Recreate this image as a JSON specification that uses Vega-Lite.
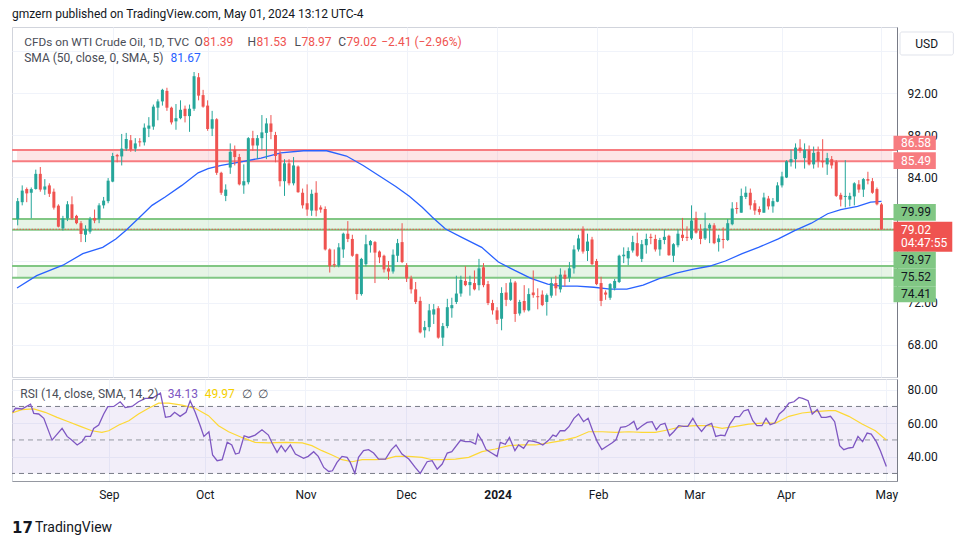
{
  "$schema": "https://vega.github.io/schema/vega-lite/v6.json",
  "background": "white",
  "padding": {"left": 10, "top": 7, "right": 5, "bottom": 5},
  "spacing": 0,
  "config": {"font": "Roboto", "view": {"stroke": "#d1d4dc"}},
  "title": {"text": "gmzern published on TradingView.com, May 01, 2024 13:12 UTC-4", "anchor": "start", "frame": "group", "fontSize": 12, "fontWeight": "normal", "color": "#131722", "offset": 6},
  "datasets": {
    "candles": [
      {"i":0,"o":80.0,"h":82.0,"l":79.4,"c":81.7},
      {"i":1,"o":81.6,"h":83.2,"l":81.3,"c":82.7},
      {"i":2,"o":82.86,"h":83.0,"l":81.6,"c":82.44},
      {"i":3,"o":82.5,"h":83.0,"l":80.06,"c":82.85},
      {"i":4,"o":82.86,"h":84.7,"l":82.8,"c":84.3},
      {"i":5,"o":84.3,"h":84.95,"l":82.6,"c":82.8},
      {"i":6,"o":82.8,"h":83.8,"l":82.3,"c":83.1},
      {"i":7,"o":83.2,"h":83.4,"l":82.1,"c":82.4},
      {"i":8,"o":82.6,"h":82.9,"l":80.9,"c":81.08},
      {"i":9,"o":81.27,"h":81.4,"l":79.2,"c":79.27},
      {"i":10,"o":79.1,"h":80.3,"l":78.9,"c":80.06},
      {"i":11,"o":80.06,"h":81.7,"l":79.8,"c":81.4},
      {"i":12,"o":81.4,"h":82.16,"l":79.9,"c":80.06},
      {"i":13,"o":80.3,"h":80.4,"l":79.5,"c":79.6},
      {"i":14,"o":79.6,"h":79.8,"l":77.8,"c":78.57},
      {"i":15,"o":78.5,"h":79.4,"l":77.8,"c":79.05},
      {"i":16,"o":78.8,"h":80.2,"l":78.6,"c":80.0},
      {"i":17,"o":80.1,"h":80.9,"l":79.6,"c":79.85},
      {"i":18,"o":80.0,"h":81.5,"l":79.6,"c":81.3},
      {"i":19,"o":81.3,"h":82.1,"l":81.0,"c":81.75},
      {"i":20,"o":81.7,"h":83.9,"l":81.5,"c":83.65},
      {"i":21,"o":83.56,"h":86.3,"l":83.5,"c":86.0},
      {"i":22,"o":86.1,"h":86.2,"l":85.4,"c":85.96},
      {"i":23,"o":85.96,"h":88.1,"l":85.1,"c":86.7},
      {"i":24,"o":86.7,"h":88.2,"l":86.5,"c":87.62},
      {"i":25,"o":87.5,"h":88.0,"l":86.4,"c":86.6},
      {"i":26,"o":86.7,"h":87.7,"l":86.4,"c":87.2},
      {"i":27,"o":87.4,"h":87.7,"l":86.9,"c":87.3},
      {"i":28,"o":87.3,"h":89.1,"l":87.0,"c":88.7},
      {"i":29,"o":88.6,"h":89.7,"l":87.8,"c":88.9},
      {"i":30,"o":88.8,"h":90.9,"l":88.5,"c":90.7},
      {"i":31,"o":90.6,"h":91.4,"l":89.4,"c":91.2},
      {"i":32,"o":91.2,"h":92.4,"l":90.8,"c":92.3},
      {"i":33,"o":92.2,"h":92.5,"l":90.3,"c":90.6},
      {"i":34,"o":90.6,"h":90.7,"l":89.0,"c":89.2},
      {"i":35,"o":89.3,"h":90.95,"l":88.5,"c":89.6},
      {"i":36,"o":89.6,"h":91.3,"l":89.5,"c":90.4},
      {"i":37,"o":90.5,"h":90.8,"l":89.2,"c":89.8},
      {"i":38,"o":89.8,"h":90.9,"l":88.3,"c":90.5},
      {"i":39,"o":90.5,"h":94.0,"l":90.3,"c":93.6},
      {"i":40,"o":93.5,"h":93.9,"l":91.3,"c":91.75},
      {"i":41,"o":91.8,"h":92.3,"l":90.6,"c":90.7},
      {"i":42,"o":90.8,"h":91.3,"l":88.4,"c":88.57},
      {"i":43,"o":88.6,"h":90.3,"l":87.9,"c":89.5},
      {"i":44,"o":89.5,"h":89.6,"l":84.2,"c":84.4},
      {"i":45,"o":84.4,"h":84.5,"l":82.3,"c":82.5},
      {"i":46,"o":82.2,"h":83.3,"l":81.7,"c":82.8},
      {"i":47,"o":84.9,"h":87.2,"l":84.3,"c":86.4},
      {"i":48,"o":86.6,"h":87.0,"l":85.1,"c":85.9},
      {"i":49,"o":85.9,"h":86.2,"l":83.2,"c":83.3},
      {"i":50,"o":83.2,"h":85.2,"l":82.4,"c":83.6},
      {"i":51,"o":83.5,"h":87.8,"l":83.3,"c":87.7},
      {"i":52,"o":87.7,"h":88.4,"l":86.5,"c":87.0},
      {"i":53,"o":87.0,"h":88.0,"l":85.7,"c":87.7},
      {"i":54,"o":87.7,"h":89.9,"l":86.6,"c":88.25},
      {"i":55,"o":88.2,"h":89.6,"l":85.7,"c":89.1},
      {"i":56,"o":89.1,"h":89.9,"l":87.6,"c":88.3},
      {"i":57,"o":88.0,"h":88.3,"l":85.4,"c":86.0},
      {"i":58,"o":86.2,"h":86.5,"l":83.1,"c":83.6},
      {"i":59,"o":83.6,"h":85.7,"l":82.2,"c":85.3},
      {"i":60,"o":85.3,"h":85.7,"l":83.2,"c":83.4},
      {"i":61,"o":83.4,"h":85.9,"l":83.2,"c":85.1},
      {"i":62,"o":85.0,"h":85.1,"l":82.5,"c":82.55},
      {"i":63,"o":82.5,"h":82.9,"l":81.0,"c":81.3},
      {"i":64,"o":81.5,"h":83.3,"l":80.3,"c":80.9},
      {"i":65,"o":80.8,"h":82.8,"l":80.3,"c":82.4},
      {"i":66,"o":82.5,"h":83.6,"l":80.25,"c":80.8},
      {"i":67,"o":81.1,"h":81.3,"l":80.6,"c":80.9},
      {"i":68,"o":80.95,"h":81.2,"l":77.0,"c":77.1},
      {"i":69,"o":77.1,"h":77.2,"l":74.9,"c":75.5},
      {"i":70,"o":75.7,"h":77.1,"l":75.4,"c":75.6},
      {"i":71,"o":75.55,"h":77.7,"l":75.4,"c":77.3},
      {"i":72,"o":77.1,"h":78.7,"l":76.3,"c":78.6},
      {"i":73,"o":78.6,"h":79.8,"l":77.8,"c":78.1},
      {"i":74,"o":78.1,"h":78.5,"l":76.4,"c":76.5},
      {"i":75,"o":76.65,"h":76.7,"l":72.3,"c":72.85},
      {"i":76,"o":72.85,"h":76.3,"l":72.7,"c":76.2},
      {"i":77,"o":75.7,"h":78.5,"l":75.5,"c":77.6},
      {"i":78,"o":77.5,"h":78.0,"l":76.8,"c":77.9},
      {"i":79,"o":77.8,"h":77.9,"l":73.9,"c":76.8},
      {"i":80,"o":76.9,"h":77.0,"l":75.8,"c":76.35},
      {"i":81,"o":76.5,"h":76.6,"l":74.9,"c":75.2},
      {"i":82,"o":75.3,"h":76.0,"l":74.2,"c":75.0},
      {"i":83,"o":75.0,"h":77.1,"l":74.8,"c":76.6},
      {"i":84,"o":76.5,"h":78.1,"l":75.9,"c":77.7},
      {"i":85,"o":77.8,"h":79.6,"l":75.8,"c":75.9},
      {"i":86,"o":75.6,"h":75.8,"l":74.0,"c":74.35},
      {"i":87,"o":74.35,"h":74.6,"l":72.9,"c":73.3},
      {"i":88,"o":73.3,"h":74.0,"l":71.9,"c":72.1},
      {"i":89,"o":72.2,"h":72.6,"l":69.1,"c":69.2},
      {"i":90,"o":69.4,"h":70.3,"l":68.7,"c":69.7},
      {"i":91,"o":69.7,"h":71.9,"l":69.3,"c":71.3},
      {"i":92,"o":70.9,"h":71.9,"l":70.0,"c":71.4},
      {"i":93,"o":71.5,"h":71.7,"l":68.6,"c":68.7},
      {"i":94,"o":68.7,"h":70.1,"l":67.9,"c":69.8},
      {"i":95,"o":69.8,"h":72.4,"l":69.6,"c":71.6},
      {"i":96,"o":71.5,"h":72.5,"l":70.6,"c":71.8},
      {"i":97,"o":72.1,"h":74.6,"l":71.9,"c":72.9},
      {"i":98,"o":72.9,"h":74.6,"l":72.6,"c":74.2},
      {"i":99,"o":74.1,"h":75.5,"l":73.6,"c":73.7},
      {"i":100,"o":73.7,"h":74.6,"l":72.7,"c":74.0},
      {"i":101,"o":73.9,"h":75.1,"l":73.2,"c":73.3},
      {"i":102,"o":73.7,"h":76.2,"l":73.2,"c":75.3},
      {"i":103,"o":75.4,"h":75.8,"l":73.5,"c":73.7},
      {"i":104,"o":73.8,"h":74.1,"l":71.8,"c":72.0},
      {"i":105,"o":72.0,"h":72.3,"l":70.9,"c":71.3},
      {"i":106,"o":71.3,"h":71.6,"l":70.0,"c":70.4},
      {"i":107,"o":70.5,"h":73.5,"l":69.4,"c":72.95},
      {"i":108,"o":73.0,"h":73.9,"l":71.7,"c":72.3},
      {"i":109,"o":72.3,"h":74.3,"l":72.2,"c":73.95},
      {"i":110,"o":73.95,"h":74.1,"l":70.2,"c":70.95},
      {"i":111,"o":71.0,"h":72.3,"l":70.8,"c":72.1},
      {"i":112,"o":72.2,"h":73.7,"l":71.1,"c":71.3},
      {"i":113,"o":71.3,"h":73.4,"l":71.2,"c":72.85},
      {"i":114,"o":73.0,"h":75.1,"l":72.5,"c":72.75},
      {"i":115,"o":72.65,"h":73.4,"l":71.4,"c":72.55},
      {"i":116,"o":72.8,"h":73.2,"l":71.7,"c":71.8},
      {"i":117,"o":72.1,"h":72.9,"l":70.8,"c":72.75},
      {"i":118,"o":72.7,"h":74.4,"l":72.5,"c":73.9},
      {"i":119,"o":73.9,"h":74.6,"l":72.7,"c":73.4},
      {"i":120,"o":73.3,"h":75.3,"l":73.0,"c":74.7},
      {"i":121,"o":74.7,"h":75.1,"l":73.6,"c":74.3},
      {"i":122,"o":74.4,"h":75.9,"l":74.0,"c":75.3},
      {"i":123,"o":75.3,"h":77.5,"l":74.8,"c":77.1},
      {"i":124,"o":77.1,"h":78.5,"l":76.9,"c":78.15},
      {"i":125,"o":79.05,"h":79.3,"l":76.7,"c":76.9},
      {"i":126,"o":76.95,"h":78.6,"l":76.0,"c":77.85},
      {"i":127,"o":78.05,"h":78.3,"l":75.6,"c":75.7},
      {"i":128,"o":76.0,"h":76.2,"l":73.7,"c":73.8},
      {"i":129,"o":73.9,"h":74.5,"l":71.7,"c":72.2},
      {"i":130,"o":73.0,"h":73.2,"l":72.3,"c":72.8},
      {"i":131,"o":72.5,"h":73.9,"l":72.3,"c":73.8},
      {"i":132,"o":73.4,"h":74.3,"l":73.2,"c":74.1},
      {"i":133,"o":74.0,"h":76.6,"l":73.9,"c":76.5},
      {"i":134,"o":76.45,"h":77.3,"l":75.8,"c":76.6},
      {"i":135,"o":76.25,"h":77.3,"l":75.6,"c":76.95},
      {"i":136,"o":77.0,"h":78.4,"l":76.8,"c":77.8},
      {"i":137,"o":77.7,"h":78.7,"l":76.4,"c":76.5},
      {"i":138,"o":76.2,"h":78.0,"l":75.9,"c":77.6},
      {"i":139,"o":77.5,"h":78.6,"l":76.7,"c":78.1},
      {"i":140,"o":78.3,"h":78.6,"l":77.6,"c":78.2},
      {"i":141,"o":78.1,"h":78.5,"l":76.9,"c":77.1},
      {"i":142,"o":77.1,"h":78.2,"l":76.5,"c":78.0},
      {"i":143,"o":78.0,"h":79.0,"l":77.6,"c":78.3},
      {"i":144,"o":78.4,"h":78.5,"l":76.5,"c":76.55},
      {"i":145,"o":76.5,"h":77.7,"l":75.9,"c":77.6},
      {"i":146,"o":77.5,"h":79.0,"l":77.3,"c":78.6},
      {"i":147,"o":78.5,"h":80.1,"l":77.9,"c":78.2},
      {"i":148,"o":78.3,"h":79.3,"l":77.9,"c":78.2},
      {"i":149,"o":78.15,"h":81.3,"l":78.0,"c":79.85},
      {"i":150,"o":80.1,"h":80.7,"l":78.6,"c":78.7},
      {"i":151,"o":78.9,"h":79.5,"l":77.6,"c":78.1},
      {"i":152,"o":78.15,"h":80.6,"l":78.0,"c":79.1},
      {"i":153,"o":79.1,"h":79.6,"l":77.7,"c":79.45},
      {"i":154,"o":79.4,"h":79.6,"l":77.6,"c":77.7},
      {"i":155,"o":77.8,"h":78.5,"l":76.9,"c":78.15},
      {"i":156,"o":78.1,"h":79.2,"l":77.2,"c":78.0},
      {"i":157,"o":78.0,"h":80.0,"l":77.9,"c":79.6},
      {"i":158,"o":79.5,"h":81.6,"l":79.4,"c":81.0},
      {"i":159,"o":81.05,"h":81.6,"l":80.5,"c":80.95},
      {"i":160,"o":80.6,"h":82.9,"l":80.6,"c":82.2},
      {"i":161,"o":82.1,"h":83.1,"l":81.9,"c":82.5},
      {"i":162,"o":82.5,"h":82.9,"l":80.9,"c":81.3},
      {"i":163,"o":81.5,"h":81.8,"l":80.4,"c":80.8},
      {"i":164,"o":80.95,"h":81.2,"l":80.4,"c":80.65},
      {"i":165,"o":80.6,"h":82.5,"l":80.6,"c":82.05},
      {"i":166,"o":81.95,"h":82.2,"l":80.9,"c":81.2},
      {"i":167,"o":81.2,"h":82.0,"l":80.6,"c":81.7},
      {"i":168,"o":81.65,"h":83.5,"l":81.6,"c":83.2},
      {"i":169,"o":83.2,"h":84.5,"l":83.0,"c":84.05},
      {"i":170,"o":83.95,"h":85.6,"l":83.9,"c":85.5},
      {"i":171,"o":85.4,"h":86.6,"l":85.0,"c":85.7},
      {"i":172,"o":85.7,"h":87.2,"l":84.8,"c":86.8},
      {"i":173,"o":86.8,"h":87.6,"l":86.3,"c":86.5},
      {"i":174,"o":85.8,"h":87.2,"l":84.8,"c":86.6},
      {"i":175,"o":86.6,"h":87.0,"l":85.1,"c":85.2},
      {"i":176,"o":85.2,"h":86.9,"l":84.8,"c":86.3},
      {"i":177,"o":86.4,"h":86.9,"l":84.9,"c":85.5},
      {"i":178,"o":85.55,"h":87.6,"l":84.9,"c":85.4},
      {"i":179,"o":85.2,"h":86.3,"l":84.2,"c":85.8},
      {"i":180,"o":85.7,"h":86.0,"l":84.8,"c":85.1},
      {"i":181,"o":85.45,"h":85.6,"l":82.1,"c":82.2},
      {"i":182,"o":82.3,"h":82.5,"l":81.2,"c":81.85},
      {"i":183,"o":82.1,"h":85.6,"l":81.1,"c":82.2},
      {"i":184,"o":81.85,"h":82.5,"l":81.2,"c":82.2},
      {"i":185,"o":82.15,"h":83.5,"l":81.3,"c":83.4},
      {"i":186,"o":83.3,"h":83.7,"l":82.5,"c":82.8},
      {"i":187,"o":82.8,"h":83.9,"l":82.1,"c":83.8},
      {"i":188,"o":83.8,"h":84.5,"l":83.3,"c":83.65},
      {"i":189,"o":83.6,"h":83.9,"l":82.4,"c":82.5},
      {"i":190,"o":82.85,"h":83.0,"l":81.3,"c":81.4},
      {"i":191,"o":81.39,"h":81.53,"l":78.97,"c":79.02}
    ],
    "sma": [
      {"i":-0.15,"v":73.43},{"i":4.2,"v":74.6},{"i":10,"v":75.6},{"i":14.4,"v":76.7},{"i":18.8,"v":77.3},{"i":21.7,"v":78.1},{"i":23.9,"v":78.9},{"i":26.8,"v":80.1},{"i":29.7,"v":81.3},{"i":32.6,"v":82.1},{"i":36.3,"v":83.2},{"i":39.9,"v":84.4},{"i":42.1,"v":84.8},{"i":45,"v":85.1},{"i":49.4,"v":85.45},{"i":53.8,"v":85.8},{"i":58.2,"v":86.3},{"i":63.2,"v":86.5},{"i":68.3,"v":86.5},{"i":72.7,"v":86.0},{"i":76.4,"v":85.1},{"i":80,"v":84.1},{"i":83.6,"v":83.1},{"i":86.6,"v":82.16},{"i":89.5,"v":81.1},{"i":91.7,"v":80.16},{"i":94.6,"v":79.05},{"i":98.2,"v":78.25},{"i":102.6,"v":77.3},{"i":106.3,"v":75.9},{"i":109.9,"v":75.1},{"i":113.5,"v":74.35},{"i":117.2,"v":73.8},{"i":120.1,"v":73.6},{"i":123.7,"v":73.6},{"i":127.4,"v":73.5},{"i":131,"v":73.33},{"i":134.7,"v":73.33},{"i":138.3,"v":73.7},{"i":142,"v":74.35},{"i":145.6,"v":74.85},{"i":149.2,"v":75.2},{"i":152.9,"v":75.5},{"i":156.5,"v":76.0},{"i":160.2,"v":76.7},{"i":163.8,"v":77.3},{"i":168.2,"v":78.1},{"i":171.8,"v":78.9},{"i":175.5,"v":79.6},{"i":179.1,"v":80.5},{"i":182,"v":80.9},{"i":185.7,"v":81.2},{"i":188.6,"v":81.6},{"i":191,"v":81.67}
    ],
    "rsi": [
      {"i":0,"r":66.5},{"i":0.6,"r":68.9},{"i":2,"r":68.5},{"i":3.9,"r":71.4},{"i":4.6,"r":65.9},{"i":5.7,"r":65.5},{"i":6.8,"r":62.9},{"i":8.6,"r":49.9},{"i":10.8,"r":56.9},{"i":11.9,"r":52.1},{"i":12.9,"r":49.9},{"i":14.1,"r":47.0},{"i":15.2,"r":49.0},{"i":15.9,"r":52.1},{"i":17,"r":52.1},{"i":17.7,"r":56.9},{"i":18.8,"r":58.9},{"i":19.9,"r":65.5},{"i":20.8,"r":69.9},{"i":22.1,"r":70.0},{"i":23.5,"r":72.8},{"i":24.6,"r":69.3},{"i":26.1,"r":70.0},{"i":27.5,"r":72.8},{"i":29,"r":74.8},{"i":30.5,"r":74.8},{"i":32.3,"r":78.0},{"i":33.4,"r":63.5},{"i":34.5,"r":64.1},{"i":35.4,"r":66.5},{"i":36.6,"r":64.1},{"i":37.9,"r":66.5},{"i":38.8,"r":73.4},{"i":39.9,"r":66.5},{"i":41,"r":58.5},{"i":41.8,"r":52.1},{"i":42.9,"r":54.9},{"i":43.7,"r":41.0},{"i":44.7,"r":37.6},{"i":45.8,"r":38.2},{"i":46.9,"r":48.6},{"i":47.9,"r":47.0},{"i":48.7,"r":41.6},{"i":49.5,"r":42.2},{"i":50.6,"r":52.5},{"i":51.6,"r":51.5},{"i":53,"r":52.9},{"i":54.5,"r":56.1},{"i":55.9,"r":52.9},{"i":56.7,"r":48.2},{"i":57.8,"r":42.6},{"i":58.7,"r":46.6},{"i":59.6,"r":43.0},{"i":60.7,"r":47.0},{"i":61.8,"r":41.6},{"i":63.6,"r":39.0},{"i":64.6,"r":40.2},{"i":65.8,"r":43.0},{"i":66.8,"r":40.2},{"i":68,"r":33.6},{"i":69.1,"r":31.2},{"i":69.9,"r":31.6},{"i":70.9,"r":36.6},{"i":72,"r":40.2},{"i":73.1,"r":39.6},{"i":73.8,"r":36.6},{"i":74.8,"r":30.0},{"i":75.6,"r":39.6},{"i":76.7,"r":43.6},{"i":77.8,"r":44.2},{"i":78.9,"r":42.2},{"i":80,"r":38.6},{"i":81.5,"r":38.6},{"i":82.8,"r":44.2},{"i":83.8,"r":47.0},{"i":85.1,"r":41.6},{"i":86.6,"r":38.6},{"i":88,"r":33.6},{"i":89.1,"r":30.0},{"i":90.6,"r":37.0},{"i":91.7,"r":37.6},{"i":92.8,"r":32.6},{"i":93.9,"r":35.6},{"i":95,"r":42.2},{"i":96,"r":43.0},{"i":97.9,"r":49.8},{"i":99,"r":49.0},{"i":100.1,"r":49.0},{"i":101.2,"r":47.6},{"i":101.7,"r":53.5},{"i":102.6,"r":49.6},{"i":103.5,"r":44.2},{"i":104.7,"r":42.2},{"i":105.9,"r":40.2},{"i":106.6,"r":48.6},{"i":107.7,"r":47.4},{"i":108.6,"r":51.5},{"i":109.8,"r":43.6},{"i":110.6,"r":47.0},{"i":111.7,"r":45.0},{"i":112.8,"r":49.6},{"i":113.9,"r":49.2},{"i":115,"r":48.2},{"i":115.9,"r":47.0},{"i":117.2,"r":49.9},{"i":118.1,"r":52.9},{"i":118.8,"r":52.1},{"i":119.7,"r":55.5},{"i":120.7,"r":55.5},{"i":121.6,"r":57.9},{"i":122.7,"r":62.9},{"i":123.7,"r":65.5},{"i":124.8,"r":60.9},{"i":125.8,"r":62.9},{"i":126.8,"r":55.5},{"i":127.8,"r":49.0},{"i":128.8,"r":44.2},{"i":129.9,"r":46.2},{"i":131,"r":48.2},{"i":131.9,"r":50.1},{"i":132.9,"r":57.5},{"i":134,"r":57.9},{"i":134.8,"r":59.1},{"i":135.8,"r":61.1},{"i":136.5,"r":56.1},{"i":137.6,"r":58.5},{"i":138.7,"r":60.5},{"i":139.8,"r":60.9},{"i":140.7,"r":56.1},{"i":141.6,"r":59.1},{"i":142.6,"r":59.9},{"i":143.6,"r":52.5},{"i":144.5,"r":54.9},{"i":145.6,"r":58.5},{"i":146.7,"r":58.1},{"i":147.6,"r":58.1},{"i":148.7,"r":62.9},{"i":149.6,"r":58.5},{"i":150.6,"r":55.1},{"i":151.6,"r":58.5},{"i":152.8,"r":59.9},{"i":153.7,"r":52.1},{"i":154.8,"r":52.9},{"i":155.7,"r":52.5},{"i":156.8,"r":59.5},{"i":157.9,"r":63.9},{"i":158.9,"r":63.9},{"i":159.8,"r":67.3},{"i":160.8,"r":68.1},{"i":161.8,"r":61.5},{"i":162.7,"r":58.5},{"i":163.8,"r":58.5},{"i":164.7,"r":62.9},{"i":165.6,"r":59.1},{"i":166.6,"r":60.1},{"i":167.6,"r":65.5},{"i":168.6,"r":67.9},{"i":169.7,"r":72.0},{"i":170.8,"r":72.8},{"i":171.9,"r":75.4},{"i":172.7,"r":74.8},{"i":173.9,"r":73.4},{"i":174.8,"r":65.5},{"i":175.9,"r":68.1},{"i":176.8,"r":63.5},{"i":177.8,"r":63.5},{"i":178.8,"r":64.1},{"i":179.7,"r":60.9},{"i":180.8,"r":46.6},{"i":181.7,"r":44.2},{"i":182.8,"r":45.2},{"i":183.7,"r":45.6},{"i":184.8,"r":52.1},{"i":185.8,"r":49.0},{"i":186.8,"r":54.1},{"i":187.7,"r":53.5},{"i":188.8,"r":49.0},{"i":189.7,"r":43.6},{"i":191,"r":34.13}
    ],
    "rsisma": [
      {"i":-0.15,"v":66.1},{"i":2,"v":68.1},{"i":4.6,"v":68.5},{"i":7.1,"v":66.5},{"i":9.7,"v":63.5},{"i":12.2,"v":60.9},{"i":14.8,"v":58.1},{"i":17.3,"v":55.5},{"i":19.5,"v":54.5},{"i":21,"v":55.5},{"i":23.2,"v":58.9},{"i":25.4,"v":61.5},{"i":27.5,"v":65.5},{"i":29.7,"v":68.9},{"i":31.9,"v":72.0},{"i":34.1,"v":72.0},{"i":37,"v":70.8},{"i":39.9,"v":68.9},{"i":42.8,"v":64.5},{"i":45,"v":58.5},{"i":47.2,"v":54.9},{"i":50.1,"v":51.5},{"i":53,"v":48.6},{"i":55.9,"v":48.2},{"i":59.6,"v":48.6},{"i":63.3,"v":48.2},{"i":65.4,"v":46.6},{"i":67.6,"v":43.6},{"i":69.8,"v":41.0},{"i":72,"v":38.2},{"i":74.2,"v":37.0},{"i":76.4,"v":38.2},{"i":79.3,"v":38.2},{"i":81.5,"v":38.6},{"i":83.7,"v":40.2},{"i":86.6,"v":40.2},{"i":89.5,"v":39.6},{"i":91.7,"v":38.2},{"i":93.9,"v":38.2},{"i":96.8,"v":38.6},{"i":99.7,"v":39.6},{"i":102.6,"v":43.0},{"i":105.5,"v":44.6},{"i":108.5,"v":46.6},{"i":111.4,"v":47.0},{"i":114.3,"v":47.0},{"i":117.2,"v":48.2},{"i":120.1,"v":49.6},{"i":123,"v":51.5},{"i":125.9,"v":54.9},{"i":128.9,"v":54.9},{"i":131.8,"v":54.5},{"i":134.7,"v":54.9},{"i":137.6,"v":54.5},{"i":140.5,"v":54.5},{"i":143.4,"v":56.1},{"i":146.4,"v":58.1},{"i":149.3,"v":58.5},{"i":152.2,"v":58.5},{"i":155.1,"v":56.9},{"i":158,"v":58.1},{"i":160.9,"v":59.5},{"i":163.8,"v":60.1},{"i":166.8,"v":60.1},{"i":169.7,"v":64.1},{"i":172.6,"v":66.1},{"i":175.5,"v":66.9},{"i":178.4,"v":67.5},{"i":179.9,"v":67.5},{"i":182.8,"v":64.1},{"i":185.7,"v":59.5},{"i":188.6,"v":55.5},{"i":191,"v":49.97}
    ]
  },
  "vconcat": [
    {
      "width": 885,
      "height": 350,
      "data": {"values": [{}]},
      "layer": [
        {"mark": {"type": "rect", "color": "#f77c80", "opacity": 0.2},
         "encoding": {
           "x": {"datum": -0.153, "type": "quantitative", "scale": {"domain": [-0.153, 193.33], "nice": false, "zero": false},
                 "axis": {"values": [21,42,64,86,106,128,149,169,191], "labels": false, "ticks": false, "domain": false, "grid": true, "gridColor": "#f0f3fa", "title": null}},
           "x2": {"datum": 193.33},
           "y": {"datum": 85.49, "type": "quantitative", "scale": {"domain": [64.952, 98.286], "nice": false, "zero": false},
                 "axis": {"orient": "right", "values": [68,72,76,80,84,88,92,96], "labelExpr": "(datum.value == 96 || datum.value == 80 || datum.value == 76) ? '' : format(datum.value, '.2f')", "grid": true, "gridColor": "#f0f3fa", "ticks": false, "domainColor": "#787b86", "labelPadding": 10, "labelFontSize": 12, "labelColor": "#131722", "title": null}},
           "y2": {"datum": 86.58}}},
        {"mark": {"type": "rect", "color": "#81c784", "opacity": 0.2},
         "encoding": {"x": {"datum": -0.153, "type": "quantitative"}, "x2": {"datum": 193.33}, "y": {"datum": 78.97, "type": "quantitative"}, "y2": {"datum": 79.99}}},
        {"mark": {"type": "rect", "color": "#81c784", "opacity": 0.2},
         "encoding": {"x": {"datum": -0.153, "type": "quantitative"}, "x2": {"datum": 193.33}, "y": {"datum": 74.41, "type": "quantitative"}, "y2": {"datum": 75.52}}},
        {"mark": {"type": "rule", "color": "#f77c80", "strokeWidth": 2}, "encoding": {"y": {"datum": 86.58, "type": "quantitative"}}},
        {"mark": {"type": "rule", "color": "#f77c80", "strokeWidth": 2}, "encoding": {"y": {"datum": 85.49, "type": "quantitative"}}},
        {"mark": {"type": "rule", "color": "#81c784", "strokeWidth": 2}, "encoding": {"y": {"datum": 79.99, "type": "quantitative"}}},
        {"mark": {"type": "rule", "color": "#81c784", "strokeWidth": 2}, "encoding": {"y": {"datum": 78.97, "type": "quantitative"}}},
        {"mark": {"type": "rule", "color": "#81c784", "strokeWidth": 2}, "encoding": {"y": {"datum": 75.52, "type": "quantitative"}}},
        {"mark": {"type": "rule", "color": "#81c784", "strokeWidth": 2}, "encoding": {"y": {"datum": 74.41, "type": "quantitative"}}},
        {"mark": {"type": "rule", "color": "#ef5350", "strokeWidth": 1, "strokeDash": [1.5, 1.5]}, "encoding": {"y": {"datum": 79.02, "type": "quantitative"}}},
        {"data": {"name": "sma"},
         "mark": {"type": "line", "color": "#2962ff", "strokeWidth": 1.3, "clip": true},
         "encoding": {"x": {"field": "i", "type": "quantitative"}, "y": {"field": "v", "type": "quantitative"}}},
        {"data": {"name": "candles"},
         "mark": {"type": "rule", "strokeWidth": 1},
         "encoding": {"x": {"field": "i", "type": "quantitative"}, "y": {"field": "l", "type": "quantitative"}, "y2": {"field": "h"},
                      "color": {"condition": {"test": "datum.c >= datum.o", "value": "#26a69a"}, "value": "#ef5350"}}},
        {"data": {"name": "candles"},
         "mark": {"type": "bar", "size": 3},
         "encoding": {"x": {"field": "i", "type": "quantitative"}, "y": {"field": "o", "type": "quantitative"}, "y2": {"field": "c"},
                      "color": {"condition": {"test": "datum.c >= datum.o", "value": "#26a69a"}, "value": "#ef5350"}}},
        {"mark": {"type": "rect", "color": "#f77c80"}, "encoding": {"x": {"datum": 193.66, "type": "quantitative"}, "x2": {"datum": 203.02}, "y": {"datum": 86.57, "type": "quantitative"}, "y2": {"datum": 87.93}}},
        {"mark": {"type": "rect", "color": "#f77c80"}, "encoding": {"x": {"datum": 193.66, "type": "quantitative"}, "x2": {"datum": 203.02}, "y": {"datum": 84.76, "type": "quantitative"}, "y2": {"datum": 86.35}}},
        {"mark": {"type": "rect", "color": "#81c784"}, "encoding": {"x": {"datum": 193.66, "type": "quantitative"}, "x2": {"datum": 203.02}, "y": {"datum": 79.84, "type": "quantitative"}, "y2": {"datum": 81.43}}},
        {"mark": {"type": "rect", "color": "#ef5350"}, "encoding": {"x": {"datum": 193.66, "type": "quantitative"}, "x2": {"datum": 206.66}, "y": {"datum": 76.89, "type": "quantitative"}, "y2": {"datum": 79.74}}},
        {"mark": {"type": "rect", "color": "#81c784"}, "encoding": {"x": {"datum": 193.66, "type": "quantitative"}, "x2": {"datum": 203.02}, "y": {"datum": 75.30, "type": "quantitative"}, "y2": {"datum": 76.89}}},
        {"mark": {"type": "rect", "color": "#81c784"}, "encoding": {"x": {"datum": 193.66, "type": "quantitative"}, "x2": {"datum": 203.02}, "y": {"datum": 73.59, "type": "quantitative"}, "y2": {"datum": 75.30}}},
        {"mark": {"type": "rect", "color": "#81c784"}, "encoding": {"x": {"datum": 193.66, "type": "quantitative"}, "x2": {"datum": 203.02}, "y": {"datum": 72.07, "type": "quantitative"}, "y2": {"datum": 73.59}}},
        {"mark": {"type": "text", "text": "86.58", "align": "left", "baseline": "middle", "fontSize": 12, "color": "white"}, "encoding": {"x": {"datum": 195.3, "type": "quantitative"}, "y": {"datum": 87.25, "type": "quantitative"}}},
        {"mark": {"type": "text", "text": "85.49", "align": "left", "baseline": "middle", "fontSize": 12, "color": "white"}, "encoding": {"x": {"datum": 195.3, "type": "quantitative"}, "y": {"datum": 85.55, "type": "quantitative"}}},
        {"mark": {"type": "text", "text": "79.99", "align": "left", "baseline": "middle", "fontSize": 12, "color": "#131722"}, "encoding": {"x": {"datum": 195.3, "type": "quantitative"}, "y": {"datum": 80.63, "type": "quantitative"}}},
        {"mark": {"type": "text", "text": "79.02", "align": "left", "baseline": "middle", "fontSize": 12, "color": "white"}, "encoding": {"x": {"datum": 195.3, "type": "quantitative"}, "y": {"datum": 78.98, "type": "quantitative"}}},
        {"mark": {"type": "text", "text": "04:47:55", "align": "left", "baseline": "middle", "fontSize": 12, "color": "white"}, "encoding": {"x": {"datum": 195.3, "type": "quantitative"}, "y": {"datum": 77.71, "type": "quantitative"}}},
        {"mark": {"type": "text", "text": "78.97", "align": "left", "baseline": "middle", "fontSize": 12, "color": "#131722"}, "encoding": {"x": {"datum": 195.3, "type": "quantitative"}, "y": {"datum": 76.10, "type": "quantitative"}}},
        {"mark": {"type": "text", "text": "75.52", "align": "left", "baseline": "middle", "fontSize": 12, "color": "#131722"}, "encoding": {"x": {"datum": 195.3, "type": "quantitative"}, "y": {"datum": 74.45, "type": "quantitative"}}},
        {"mark": {"type": "text", "text": "74.41", "align": "left", "baseline": "middle", "fontSize": 12, "color": "#131722"}, "encoding": {"x": {"datum": 195.3, "type": "quantitative"}, "y": {"datum": 72.83, "type": "quantitative"}}},
        {"mark": {"type": "rect", "color": "white", "stroke": "#e0e3eb", "strokeWidth": 1, "cornerRadius": 2}, "encoding": {"x": {"datum": 195.1, "type": "quantitative"}, "x2": {"datum": 206.9}, "y": {"datum": 95.62, "type": "quantitative"}, "y2": {"datum": 97.81}}},
        {"mark": {"type": "text", "text": "USD", "align": "center", "baseline": "middle", "fontSize": 12, "color": "#131722"}, "encoding": {"x": {"datum": 201.0, "type": "quantitative"}, "y": {"datum": 96.71, "type": "quantitative"}}},
        {"mark": {"type": "text", "text": "CFDs on WTI Crude Oil, 1D, TVC", "align": "left", "baseline": "middle", "fontSize": 11.8, "color": "#4a4d57"}, "encoding": {"x": {"datum": 1.44, "type": "quantitative"}, "y": {"datum": 96.89, "type": "quantitative"}}},
        {"mark": {"type": "text", "text": "O", "align": "right", "dx": -0.5, "baseline": "middle", "fontSize": 12, "color": "#4a4d57"}, "encoding": {"x": {"datum": 41.02, "type": "quantitative"}, "y": {"datum": 96.89, "type": "quantitative"}}},
        {"mark": {"type": "text", "text": "81.39", "align": "left", "baseline": "middle", "fontSize": 12, "color": "#ef5350"}, "encoding": {"x": {"datum": 41.02, "type": "quantitative"}, "y": {"datum": 96.89, "type": "quantitative"}}},
        {"mark": {"type": "text", "text": "H", "align": "right", "dx": -0.5, "baseline": "middle", "fontSize": 12, "color": "#4a4d57"}, "encoding": {"x": {"datum": 52.82, "type": "quantitative"}, "y": {"datum": 96.89, "type": "quantitative"}}},
        {"mark": {"type": "text", "text": "81.53", "align": "left", "baseline": "middle", "fontSize": 12, "color": "#ef5350"}, "encoding": {"x": {"datum": 52.82, "type": "quantitative"}, "y": {"datum": 96.89, "type": "quantitative"}}},
        {"mark": {"type": "text", "text": "L", "align": "right", "dx": -0.5, "baseline": "middle", "fontSize": 12, "color": "#4a4d57"}, "encoding": {"x": {"datum": 62.75, "type": "quantitative"}, "y": {"datum": 96.89, "type": "quantitative"}}},
        {"mark": {"type": "text", "text": "78.97", "align": "left", "baseline": "middle", "fontSize": 12, "color": "#ef5350"}, "encoding": {"x": {"datum": 62.75, "type": "quantitative"}, "y": {"datum": 96.89, "type": "quantitative"}}},
        {"mark": {"type": "text", "text": "C", "align": "right", "dx": -0.5, "baseline": "middle", "fontSize": 12, "color": "#4a4d57"}, "encoding": {"x": {"datum": 72.72, "type": "quantitative"}, "y": {"datum": 96.89, "type": "quantitative"}}},
        {"mark": {"type": "text", "text": "79.02", "align": "left", "baseline": "middle", "fontSize": 12, "color": "#ef5350"}, "encoding": {"x": {"datum": 72.72, "type": "quantitative"}, "y": {"datum": 96.89, "type": "quantitative"}}},
        {"mark": {"type": "text", "text": "−2.41 (−2.96%)", "align": "left", "baseline": "middle", "fontSize": 12, "color": "#ef5350"}, "encoding": {"x": {"datum": 80.37, "type": "quantitative"}, "y": {"datum": 96.89, "type": "quantitative"}}},
        {"mark": {"type": "text", "text": "SMA (50, close, 0, SMA, 5)", "align": "left", "baseline": "middle", "fontSize": 12, "color": "#4a4d57"}, "encoding": {"x": {"datum": 1.44, "type": "quantitative"}, "y": {"datum": 95.30, "type": "quantitative"}}},
        {"mark": {"type": "text", "text": "81.67", "align": "left", "baseline": "middle", "fontSize": 12, "color": "#2962ff"}, "encoding": {"x": {"datum": 33.8, "type": "quantitative"}, "y": {"datum": 95.30, "type": "quantitative"}}}
      ]
    },
    {
      "width": 885,
      "height": 102,
      "data": {"values": [{}]},
      "layer": [
        {"mark": {"type": "rect", "color": "#7e57c2", "opacity": 0.1},
         "encoding": {
           "x": {"datum": -0.153, "type": "quantitative", "scale": {"domain": [-0.153, 193.33], "nice": false, "zero": false},
                 "axis": {"values": [21,42,64,86,106,128,149,169,191], "labelExpr": "datum.value == 21 ? 'Sep' : datum.value == 42 ? 'Oct' : datum.value == 64 ? 'Nov' : datum.value == 86 ? 'Dec' : datum.value == 106 ? '2024' : datum.value == 128 ? 'Feb' : datum.value == 149 ? 'Mar' : datum.value == 169 ? 'Apr' : 'May'",
                          "labelFontWeight": {"condition": {"test": "datum.value == 106", "value": "bold"}, "value": "normal"},
                          "grid": true, "gridColor": "#f0f3fa", "ticks": false, "domainColor": "#9598a1", "labelPadding": 8, "labelFontSize": 12, "labelColor": "#131722", "labelFlush": false, "labelOverlap": false, "title": null}},
           "x2": {"datum": 193.33},
           "y": {"datum": 30, "type": "quantitative", "scale": {"domain": [25.49, 86.39], "nice": false, "zero": false},
                 "axis": {"orient": "right", "values": [40, 60, 80], "format": ".2f", "grid": true, "gridColor": "#f0f3fa", "ticks": false, "domainColor": "#787b86", "labelPadding": 10, "labelFontSize": 12, "labelColor": "#131722", "title": null}},
           "y2": {"datum": 70}}},
        {"mark": {"type": "rule", "color": "#787b86", "strokeWidth": 1, "strokeDash": [5, 4]}, "encoding": {"y": {"datum": 70, "type": "quantitative"}}},
        {"mark": {"type": "rule", "color": "#9598a1", "strokeWidth": 1, "strokeDash": [5, 4]}, "encoding": {"y": {"datum": 50, "type": "quantitative"}}},
        {"mark": {"type": "rule", "color": "#787b86", "strokeWidth": 1, "strokeDash": [5, 4]}, "encoding": {"y": {"datum": 30, "type": "quantitative"}}},
        {"data": {"name": "rsisma"},
         "mark": {"type": "line", "color": "#fdd835", "strokeWidth": 1.2, "clip": true},
         "encoding": {"x": {"field": "i", "type": "quantitative"}, "y": {"field": "v", "type": "quantitative"}}},
        {"data": {"name": "rsi"},
         "mark": {"type": "line", "color": "#7e57c2", "strokeWidth": 1.3, "clip": true},
         "encoding": {"x": {"field": "i", "type": "quantitative"}, "y": {"field": "r", "type": "quantitative"}}},
        {"mark": {"type": "text", "text": "RSI (14, close, SMA, 14, 2)", "align": "left", "baseline": "middle", "fontSize": 12, "color": "#4a4d57"}, "encoding": {"x": {"datum": 1.66, "type": "quantitative"}, "y": {"datum": 77.43, "type": "quantitative"}}},
        {"mark": {"type": "text", "text": "34.13", "align": "left", "baseline": "middle", "fontSize": 12, "color": "#7e57c2"}, "encoding": {"x": {"datum": 33.9, "type": "quantitative"}, "y": {"datum": 77.43, "type": "quantitative"}}},
        {"mark": {"type": "text", "text": "49.97", "align": "left", "baseline": "middle", "fontSize": 12, "color": "#f5d000"}, "encoding": {"x": {"datum": 41.98, "type": "quantitative"}, "y": {"datum": 77.43, "type": "quantitative"}}},
        {"mark": {"type": "text", "text": "∅", "align": "left", "baseline": "middle", "fontSize": 12, "color": "#4a4d57"}, "encoding": {"x": {"datum": 50.1, "type": "quantitative"}, "y": {"datum": 77.43, "type": "quantitative"}}},
        {"mark": {"type": "text", "text": "∅", "align": "left", "baseline": "middle", "fontSize": 12, "color": "#4a4d57"}, "encoding": {"x": {"datum": 53.6, "type": "quantitative"}, "y": {"datum": 77.43, "type": "quantitative"}}},
        {"mark": {"type": "text", "text": "17", "align": "left", "baseline": "middle", "fontSize": 15, "fontWeight": 900, "font": "DejaVu Sans", "color": "#131722"}, "encoding": {"x": {"datum": -0.15, "type": "quantitative"}, "y": {"datum": -2.57, "type": "quantitative"}}},
        {"mark": {"type": "text", "text": "TradingView", "align": "left", "baseline": "middle", "fontSize": 14, "color": "#131722"}, "encoding": {"x": {"datum": 4.88, "type": "quantitative"}, "y": {"datum": -2.57, "type": "quantitative"}}}
      ]
    }
  ]
}
